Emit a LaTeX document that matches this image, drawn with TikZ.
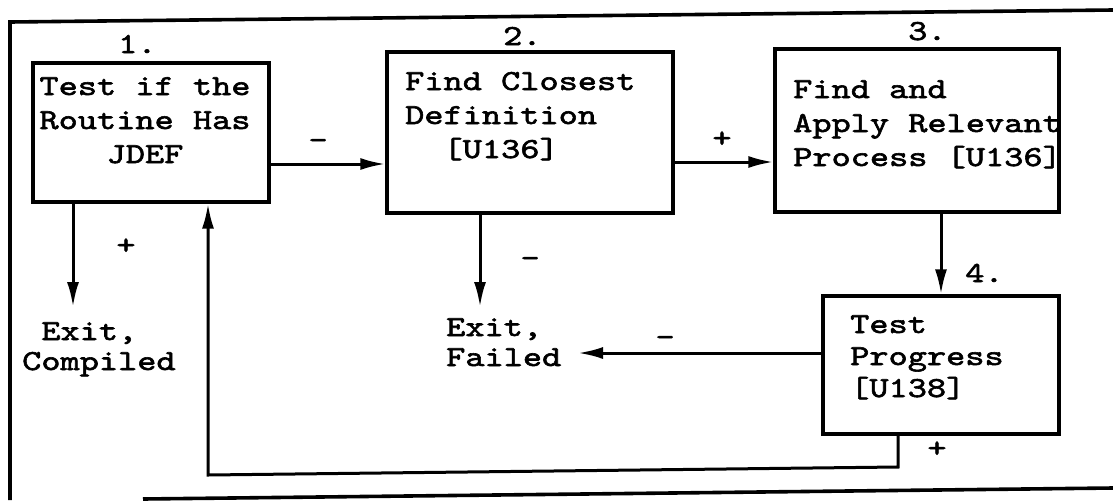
\documentclass[tikz,border=0pt]{standalone}
\usepackage{fontspec}
\newfontfamily\tw{lmmono10-regular.otf}[FakeStretch=1.26,FakeBold=2]
\usetikzlibrary{arrows.meta}
\tikzset{
  boxnode/.style={draw, line width=3.2pt, rectangle, inner sep=0pt},
  txt/.style={inner sep=0pt, font=\tw\fontsize{29}{34}\selectfont},
  exittxt/.style={inner sep=0pt, align=left, font=\tw\fontsize{29}{30}\selectfont},
  arr/.style={line width=3pt, -{Latex[length=25pt,width=12pt]}},
  frameline/.style={line width=3.6pt}
}
\begin{document}
\begin{tikzpicture}[x=1pt,y=-1pt]
\useasboundingbox (0,0) rectangle (1113,501);
% frame
\draw[frameline] (10,500) -- (10,22) -- (1113,10);
\draw[frameline] (143,499) -- (1113,488);
% boxes
\node[boxnode, minimum width=236pt, minimum height=139pt] (b1) at (151,132.5) {};
\node[boxnode, minimum width=286pt, minimum height=161pt] (b2) at (530,132.5) {};
\node[boxnode, minimum width=284pt, minimum height=163pt] (b3) at (917,130.5) {};
\node[boxnode, minimum width=236pt, minimum height=138pt] (b4) at (941,365) {};
% box texts (base anchor = baseline of last line)
\node[txt, align=center, anchor=base] (t1) at (145,163) {Test if the\\Routine Has\\JDEF};
\node[txt, align=left, anchor=base west] (t2) at (405,158) {Find Closest\\Definition\\\hphantom{De}{[U136]}};
\node[txt, align=left, anchor=base west] (t3) at (793,166) {Find and\\Apply Relevant\\Process [U136]};
\node[txt, align=left, anchor=base west, font=\tw\fontsize{29}{32}\selectfont] (t4) at (850,397) {Test\\Progress\\{}{[U138]}};
% numbers
\node[txt, anchor=base west] (n1) at (118,53) {1.};
\node[txt, anchor=base west] (n2) at (503,45) {2.};
\node[txt, anchor=base west] (n3) at (908,40) {3.};
\node[txt, anchor=base west] (n4) at (965,282) {4.};
% exits
\node[exittxt, anchor=base west] (ec) at (22,370) {\hphantom{C}Exit,\\Compiled};
\node[exittxt, anchor=base west] (ef) at (446,366) {Exit,\\Failed};
\coordinate (e1) at (73,307);
\coordinate (e2) at (480,307);
\coordinate (e3) at (578,353);
\coordinate (fbr) at (898,467);
\coordinate (fbl) at (208,475);
% connectors
\draw[arr] (b1.east |- 0,164) -- (b2.west |- 0,164);
\draw[arr] (b2.east |- 0,162) -- (b3.west |- 0,162);
\draw[arr] (b3.south -| 941,0) -- (b4.north -| 941,0);
\draw[arr] (b1.south -| e1) -- (e1);
\draw[arr] (b2.south -| e2) -- (e2);
\draw[arr] (b4.west |- e3) -- (e3);
\draw[arr] (b4.south -| fbr) -- (fbr) -- (fbl) -- (b1.south -| fbl);
% signs
\node[txt, anchor=base] (s12) at (318,149) {-};
\node[txt, anchor=base] (s23) at (722,147) {+};
\node[txt, anchor=base] (s1d) at (126,254) {+};
\node[txt, anchor=base] (s2d) at (530,267) {-};
\node[txt, anchor=base] (s4f) at (665,346) {-};
\node[txt, anchor=base] (s4b) at (937,457) {+};
\end{tikzpicture}
\end{document}
